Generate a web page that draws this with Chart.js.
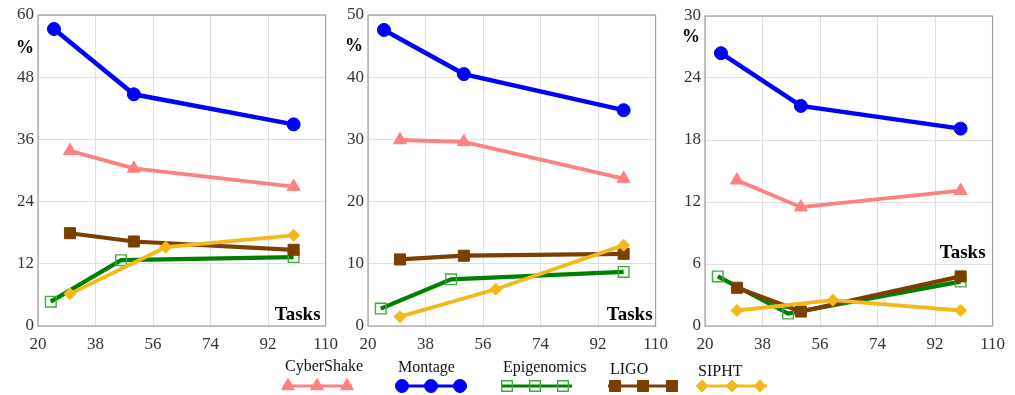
<!DOCTYPE html>
<html><head><meta charset="utf-8">
<script src="https://cdn.jsdelivr.net/npm/chart.js@4.4.0/dist/chart.umd.min.js"></script>
<style>
html,body{margin:0;padding:0;background:#fff;width:1015px;height:395px;overflow:hidden}
canvas{position:absolute;top:0}
</style></head><body>
<canvas id="c1" width="346" height="350" style="left:0"></canvas>
<canvas id="c2" width="346" height="350" style="left:330px"></canvas>
<canvas id="c3" width="346" height="350" style="left:667px"></canvas>
<canvas id="leg" width="1015" height="45" style="top:350px;left:0"></canvas>
<script>
// ---- data ----
const seriesNames = ['CyberShake','Montage','Epigenomics','LIGO','SIPHT'];
const tasksCyberShake = [30, 50, 100];
const tasksMontage = [25, 50, 100];
const tasksEpigenomics = [24, 46, 100];
const tasksLIGO = [30, 50, 100];
const tasksSIPHT = [30, 60, 100];
const xTicks = [20, 38, 56, 74, 92, 110];

const p1CyberShake = [33.8, 30.4, 26.9];
const p1Montage = [57.3, 44.7, 38.9];
const p1Epigenomics = [4.7, 12.7, 13.3];
const p1LIGO = [17.9, 16.3, 14.7];
const p1SIPHT = [6.2, 15.2, 17.5];
const p1YTicks = [0, 12, 24, 36, 48, 60];

const p2CyberShake = [29.9, 29.6, 23.7];
const p2Montage = [47.6, 40.5, 34.7];
const p2Epigenomics = [2.8, 7.5, 8.7];
const p2LIGO = [10.7, 11.3, 11.6];
const p2SIPHT = [1.5, 5.9, 13.0];
const p2YTicks = [0, 10, 20, 30, 40, 50];

const p3CyberShake = [14.1, 11.5, 13.1];
const p3Montage = [26.4, 21.3, 19.1];
const p3Epigenomics = [4.8, 1.2, 4.3];
const p3LIGO = [3.7, 1.4, 4.8];
const p3SIPHT = [1.5, 2.5, 1.5];
const p3YTicks = [0, 6, 12, 18, 24, 30];

// ---- styles ----
const STY = {
  CyberShake: {color:'#FF8080', mFill:'#FF8080', mStroke:'#FF8080', shape:'triangle', r:7.5, lw:3.8},
  Montage: {color:'#0000FF', mFill:'#0000FF', mStroke:'#0000FF', shape:'circle', r:6.5, lw:4.5},
  Epigenomics: {color:'#008000', mFill:'rgba(255,255,255,0)', mStroke:'#40AA40', shape:'rect', r:7.5, lw:4.2},
  LIGO: {color:'#7B3F00', mFill:'#7B3F00', mStroke:'#7B3F00', shape:'rect', r:7.8, lw:4.2},
  SIPHT: {color:'#F2B81C', mFill:'#F2B81C', mStroke:'#F2B81C', shape:'rectRot', r:6, lw:3.8}
};
const FONT = "'Liberation Serif','Times New Roman',serif";

function pts(xs, ys){ return xs.map((x,i)=>({x:x, y:ys[i]})); }

function dataset(name, xs, ys, order){
  const s = STY[name];
  return {
    label:name, data:pts(xs,ys), order:order,
    borderColor:s.color, borderWidth:s.lw, tension:0,
    pointStyle:s.shape, pointRadius:s.r, pointHoverRadius:s.r,
    pointBackgroundColor:s.mFill, pointBorderColor:s.mStroke,
    pointBorderWidth: name==='Epigenomics'?1.4:1
  };
}

const framePlugin = {
  id:'frame',
  beforeDatasetsDraw(chart){
    const a = chart.chartArea, ctx = chart.ctx;
    ctx.save(); ctx.strokeStyle='#A0A0A0'; ctx.lineWidth=1.2;
    ctx.strokeRect(a.left, a.top, a.right-a.left, a.bottom-a.top);
    ctx.restore();
  },
  afterDraw(chart){
    const o = chart.options.plugins.frame, a = chart.chartArea, ctx = chart.ctx;
    ctx.save(); ctx.fillStyle='#000';
    ctx.font = "bold 18px " + FONT; ctx.textAlign='center'; ctx.textBaseline='middle';
    ctx.fillText('%', o.pct[0], o.pct[1]);
    ctx.font = "bold 19px " + FONT; ctx.textAlign='right'; ctx.textBaseline='alphabetic';
    ctx.fillText('Tasks', a.right + o.tasks[0], a.bottom + o.tasks[1]);
    ctx.restore();
  }
};

function makeChart(id, yTicks, vals, topPad, pct, tasks){
  const yMax = yTicks[yTicks.length-1];
  return new Chart(document.getElementById(id), {
    type:'line',
    data:{datasets:[
      dataset('CyberShake', tasksCyberShake, vals[0], 4),
      dataset('Montage', tasksMontage, vals[1], 3),
      dataset('Epigenomics', tasksEpigenomics, vals[2], 2),
      dataset('LIGO', tasksLIGO, vals[3], 1),
      dataset('SIPHT', tasksSIPHT, vals[4], 0)
    ]},
    options:{
      responsive:false, animation:false, events:[],
      layout:{padding:{top:topPad, right:15, left:0, bottom:0}},
      plugins:{legend:{display:false}, tooltip:{enabled:false}, frame:{pct:pct, tasks:tasks}},
      scales:{
        x:{type:'linear', min:xTicks[0], max:xTicks[xTicks.length-1],
           afterBuildTicks(s){ s.ticks = xTicks.map(v=>({value:v})); },
           ticks:{font:{family:FONT,size:17}, color:'#333', padding:8, maxRotation:0, autoSkip:false},
           grid:{color:'#E0E0E0', lineWidth:1, drawTicks:false}, border:{display:false},
           afterFit(s){ s.height = 24; }},
        y:{type:'linear', min:0, max:yMax,
           afterBuildTicks(s){ s.ticks = yTicks.map(v=>({value:v})); },
           ticks:{font:{family:FONT,size:17}, color:'#333', padding:4, autoSkip:false},
           grid:{color:'#E0E0E0', lineWidth:1, drawTicks:false}, border:{display:false},
           afterFit(s){ s.width = 38; }}
      }
    },
    plugins:[framePlugin]
  });
}

makeChart('c1', p1YTicks, [p1CyberShake,p1Montage,p1Epigenomics,p1LIGO,p1SIPHT], 15, [25,48], [-5,-6]);
makeChart('c2', p2YTicks, [p2CyberShake,p2Montage,p2Epigenomics,p2LIGO,p2SIPHT], 15, [24,46], [-3,-6]);
makeChart('c3', p3YTicks, [p3CyberShake,p3Montage,p3Epigenomics,p3LIGO,p3SIPHT], 16, [24,37], [-7,-68]);

// ---- legend ----
function marker(ctx, shape, x, y, r, fill, stroke, lw){
  ctx.save(); ctx.fillStyle=fill; ctx.strokeStyle=stroke; ctx.lineWidth=lw;
  ctx.beginPath();
  if(shape==='circle'){ ctx.arc(x,y,r,0,Math.PI*2); }
  else if(shape==='triangle'){
    ctx.moveTo(x, y-r); ctx.lineTo(x+r*0.866, y+r*0.5); ctx.lineTo(x-r*0.866, y+r*0.5); ctx.closePath();
  } else if(shape==='rect'){ const s=r*Math.SQRT1_2; ctx.rect(x-s,y-s,2*s,2*s); }
  else if(shape==='rectRot'){ ctx.moveTo(x,y-r); ctx.lineTo(x+r,y); ctx.lineTo(x,y+r); ctx.lineTo(x-r,y); ctx.closePath(); }
  ctx.fill(); ctx.stroke(); ctx.restore();
}
const legItems = [
  {name:'CyberShake', tx:285, ty:17, x0:283, x1:352, ly:36, ms:[288,317,347]},
  {name:'Montage', tx:398, ty:18, x0:397, x1:465, ly:36, ms:[402,431,460]},
  {name:'Epigenomics', tx:503, ty:18, x0:502, x1:572, ly:36, ms:[507,535,563]},
  {name:'LIGO', tx:610, ty:20, x0:608, x1:678, ly:36, ms:[615,643,672]},
  {name:'SIPHT', tx:698, ty:22, x0:698, x1:767, ly:36, ms:[702,732,760]}
];
const lc = document.getElementById('leg').getContext('2d');
lc.font = "16px " + FONT; lc.textBaseline='middle'; lc.textAlign='left';
legItems.forEach(it=>{
  const s = STY[it.name];
  lc.fillStyle='#111'; lc.fillText(it.name, it.tx, it.ty);
  lc.strokeStyle=s.color; lc.lineWidth=3; lc.beginPath(); lc.moveTo(it.x0,it.ly); lc.lineTo(it.x1,it.ly); lc.stroke();
  it.ms.forEach(mx=>marker(lc, s.shape, mx, it.ly, s.r, s.mFill, s.mStroke, it.name==='Epigenomics'?1.4:1));
});
</script>
</body></html>
